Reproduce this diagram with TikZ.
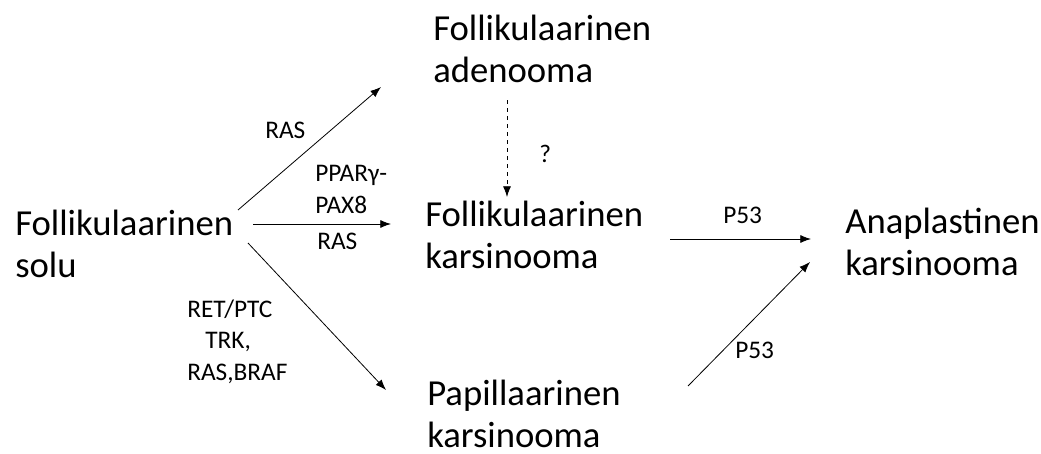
\documentclass[tikz,border=0pt]{standalone}
\usepackage{fontspec}
\setmainfont{Carlito}
\usetikzlibrary{arrows.meta}
\tikzset{
  big/.style={font=\fontsize{27.5}{31.5}\selectfont, align=left, anchor=base west, inner sep=0pt},
  lbl/.style={font=\fontsize{19}{23.5}\selectfont, align=left, anchor=base west, inner sep=0pt},
  arr/.style={-{Latex[length=8pt,width=6pt]}, line width=0.6pt},
}
\begin{document}
\begin{tikzpicture}[x=0.75pt,y=-0.75pt]
\useasboundingbox (0,0) rectangle (1041,453);
\node[big] (solu) at (15,277) {Follikulaarinen\\solu};
\node[big] (aden) at (433,82) {Follikulaarinen\\adenooma};
\node[big] (fkars) at (425,268) {Follikulaarinen\\karsinooma};
\node[big] (anap) at (845,275) {Anaplastinen\\karsinooma};
\node[big] (pap) at (427,447) {Papillaarinen\\karsinooma};

\coordinate (s1) at (238,210);
\coordinate (e1) at (381,87);
\coordinate (s2) at (253,224);
\coordinate (e2) at (391,224);
\coordinate (s3) at (248,243);
\coordinate (e3) at (386,390);
\coordinate (s4) at (507,100);
\coordinate (e4) at (507,197);
\coordinate (s5) at (670,239);
\coordinate (e5) at (811,239);
\coordinate (s6) at (688,386);
\coordinate (e6) at (810,262);

\draw[arr] (s1) -- (e1);
\draw[arr] (s2) -- (e2);
\draw[arr] (s3) -- (e3);
\draw[arr, dashed] (s4) -- (e4);
\draw[arr] (s5) -- (e5);
\draw[arr] (s6) -- (e6);

\node[lbl] (l1) at (265,138) {RAS};
\node[lbl] (l2) at (315,213) {PPARγ-\\PAX8};
\node[lbl] (l3) at (317,249) {RAS};
\node[lbl] (l4) at (187,380) {RET/PTC\\\hspace{13.5pt}TRK,\\RAS,BRAF};
\node[lbl] (l5) at (539,162) {?};
\node[lbl] (l6) at (723,223) {P53};
\node[lbl] (l7) at (735,358) {P53};
\end{tikzpicture}
\end{document}
